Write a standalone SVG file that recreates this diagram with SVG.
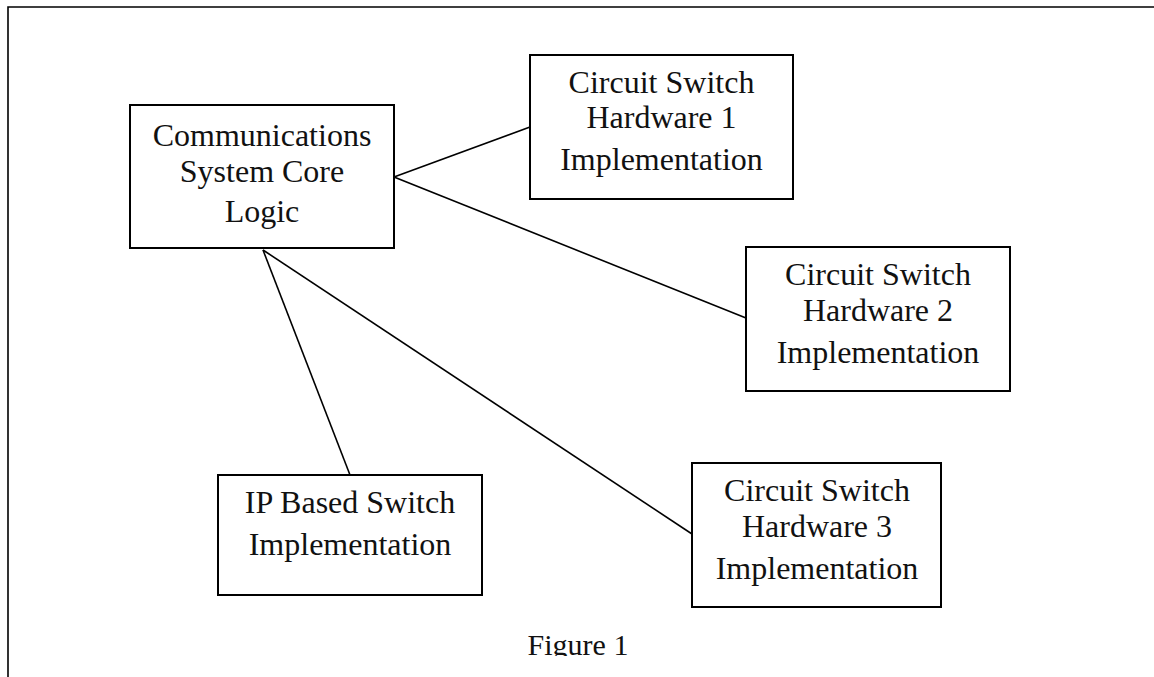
<svg xmlns="http://www.w3.org/2000/svg" width="1154" height="677" viewBox="0 0 1154 677">
<style>
.box{fill:#fff;stroke:#000;stroke-width:2}
.ln{stroke:#000;stroke-width:1.6;fill:none}
text{font-family:"Liberation Serif","Times New Roman",serif;font-size:32px;fill:#111;text-anchor:middle}
.cap{font-size:30px}
</style>
<defs>
<clipPath id="capclip"><rect x="0" y="0" width="1154" height="656"/></clipPath>
</defs>
<rect width="1154" height="677" fill="#fff"/>
<g id="frame">
<path class="ln" d="M8 677 V7 H1154" stroke-width="2.2"/>
</g>
<g id="connectors">
<line class="ln" x1="394" y1="177" x2="530" y2="127"/>
<line class="ln" x1="394" y1="177" x2="746" y2="318"/>
<line class="ln" x1="263" y1="250" x2="350" y2="475"/>
<line class="ln" x1="263" y1="250" x2="692" y2="534"/>
</g>
<g id="core">
<rect class="box" x="130" y="105" width="264" height="143"/>
<text x="262" y="146">Communications</text>
<text x="262" y="182">System Core</text>
<text x="262" y="222">Logic</text>
</g>
<g id="cs1">
<rect class="box" x="530" y="55" width="263" height="144"/>
<text x="661.5" y="93">Circuit Switch</text>
<text x="661.5" y="128">Hardware 1</text>
<text x="661.5" y="170">Implementation</text>
</g>
<g id="cs2">
<rect class="box" x="746" y="247" width="264" height="144"/>
<text x="878" y="285">Circuit Switch</text>
<text x="878" y="321">Hardware 2</text>
<text x="878" y="363">Implementation</text>
</g>
<g id="ip">
<rect class="box" x="218" y="475" width="264" height="120"/>
<text x="350" y="513">IP Based Switch</text>
<text x="350" y="555">Implementation</text>
</g>
<g id="cs3">
<rect class="box" x="692" y="463" width="249" height="144"/>
<text x="817" y="501">Circuit Switch</text>
<text x="817" y="537">Hardware 3</text>
<text x="817" y="579">Implementation</text>
</g>
<g id="caption" clip-path="url(#capclip)">
<text class="cap" x="578" y="655">Figure 1</text>
</g>
</svg>
